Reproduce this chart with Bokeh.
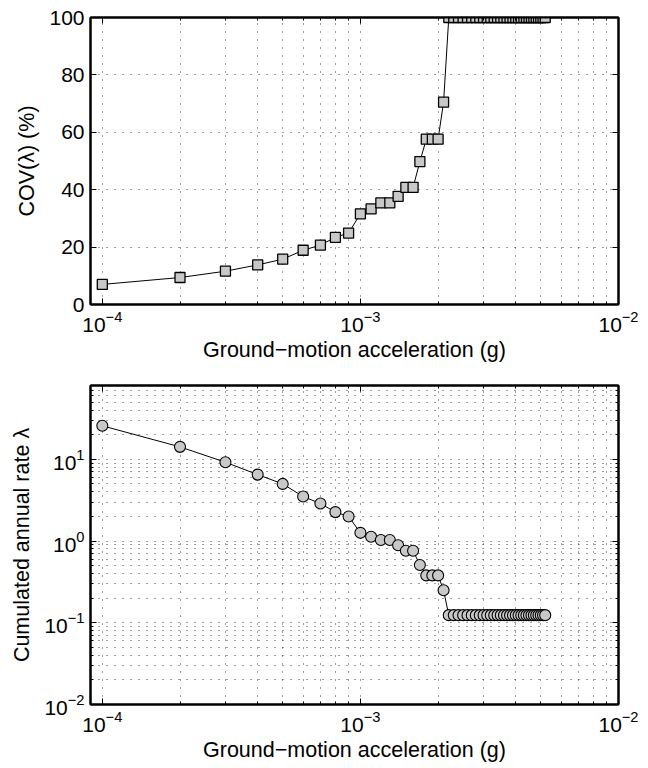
from bokeh.plotting import figure
from bokeh.layouts import column
from bokeh.models import LogAxis, LinearAxis, FixedTicker, Range1d, ColumnDataSource
from bokeh.embed import file_html
from bokeh.resources import INLINE

# ---------------- data ----------------
accel_g = [0.0001, 0.0002, 0.0003, 0.0004, 0.0005, 0.0006, 0.0007, 0.0008, 0.0009,
           0.0010, 0.0011, 0.0012, 0.0013, 0.0014, 0.0015, 0.0016, 0.0017, 0.0018,
           0.0019, 0.0020, 0.0021, 0.0022, 0.0023, 0.0024, 0.0025, 0.0026, 0.0027,
           0.0028, 0.0029, 0.0030, 0.0031, 0.0032, 0.0033, 0.0034, 0.0035, 0.0036,
           0.0037, 0.0038, 0.0039, 0.0040, 0.0041, 0.0042, 0.0043, 0.0044, 0.0045,
           0.0046, 0.0047, 0.0048, 0.0049, 0.0050, 0.0051, 0.0052]

cov_pct = [7.0, 9.4, 11.6, 13.8, 15.8, 18.9, 20.7, 23.4, 24.9,
           31.6, 33.3, 35.4, 35.4, 37.7, 40.8, 40.8, 49.8, 57.6,
           57.6, 57.6, 70.5, 100, 100, 100, 100, 100, 100,
           100, 100, 100, 100, 100, 100, 100, 100, 100,
           100, 100, 100, 100, 100, 100, 100, 100, 100,
           100, 100, 100, 100, 100, 100, 100]

annual_rate = [25.7, 14.2, 9.2, 6.5, 5.0, 3.5, 2.88, 2.26, 2.0,
               1.26, 1.13, 1.03, 1.03, 0.89, 0.76, 0.76, 0.51, 0.38,
               0.38, 0.38, 0.25, 0.124, 0.124, 0.124, 0.124, 0.124, 0.124,
               0.124, 0.124, 0.124, 0.124, 0.124, 0.124, 0.124, 0.124, 0.124,
               0.124, 0.124, 0.124, 0.124, 0.124, 0.124, 0.124, 0.124, 0.124,
               0.124, 0.124, 0.124, 0.124, 0.124, 0.124, 0.124]

x_major_ticks = [1e-4, 1e-3, 1e-2]
cov_ticks = [0, 20, 40, 60, 80, 100]
rate_major_ticks = [1e-2, 1e-1, 1e0, 1e1]

x_label = "Ground\u2212motion acceleration (g)"
cov_label = "COV(\u03bb) (%)"
rate_label = "Cumulated annual rate \u03bb"

# ---------------- styling ----------------
FONT = "Liberation Sans"
TICK_FS = "21px"
LABEL_FS = "21.5px"
MARKER_FILL = "#c8c8c8"

def minor_log(decades):
    return [m * 10.0 ** e for e in decades for m in range(2, 10)]

x_minor = minor_log([-5, -4, -3])
rate_minor = minor_log([-2, -1, 0, 1])


def style_axis(ax, labels=True):
    ax.major_tick_in = 6
    ax.major_tick_out = 0
    ax.minor_tick_in = 3
    ax.minor_tick_out = 0
    ax.axis_line_color = "black"
    ax.axis_line_width = 2
    ax.major_tick_line_color = "black"
    ax.minor_tick_line_color = "black"
    ax.major_label_text_font = FONT
    ax.major_label_text_color = "black"
    ax.axis_label_text_font = FONT
    ax.axis_label_text_font_style = "normal"
    ax.axis_label_text_color = "black"
    ax.axis_label_text_font_size = LABEL_FS
    if labels:
        ax.major_label_text_font_size = TICK_FS
        ax.major_label_standoff = 6
    else:
        ax.major_label_text_font_size = "0px"
        ax.major_label_text_alpha = 0
        ax.major_label_standoff = 0


def style_grid(g, minor=True):
    g.grid_line_color = "black"
    g.grid_line_alpha = 0.75
    g.grid_line_dash = "1 7"
    g.grid_line_width = 1
    if minor:
        g.minor_grid_line_color = "black"
        g.minor_grid_line_alpha = 0.75
        g.minor_grid_line_dash = "1 7"
        g.minor_grid_line_width = 1


src = ColumnDataSource(dict(x=accel_g, cov=cov_pct, rate=annual_rate))

x_ticker = FixedTicker(ticks=x_major_ticks, minor_ticks=x_minor)
x_start = 9.0e-5
x_end = 1e-2

# ---------------- top plot ----------------
p1 = figure(width=648, height=366, x_axis_type="log",
            x_range=Range1d(x_start, x_end), y_range=Range1d(0, 100),
            output_backend="svg", toolbar_location=None,
            min_border_left=90, min_border_right=30,
            min_border_top=17, min_border_bottom=62)
p1.xaxis.ticker = x_ticker
p1.yaxis.ticker = FixedTicker(ticks=cov_ticks)
p1.xaxis.axis_label = x_label
p1.yaxis.axis_label = cov_label
for ax in p1.xaxis + p1.yaxis:
    style_axis(ax)
p1.xaxis.axis_label_standoff = 3
p1.yaxis.axis_label_standoff = 7
top_ax = LogAxis(ticker=x_ticker)
style_axis(top_ax, labels=False)
p1.add_layout(top_ax, "above")
right_ax = LinearAxis(ticker=FixedTicker(ticks=cov_ticks))
style_axis(right_ax, labels=False)
p1.add_layout(right_ax, "right")
p1.xgrid.ticker = x_ticker
style_grid(p1.xgrid[0], minor=True)
style_grid(p1.ygrid[0], minor=False)
p1.outline_line_color = "black"
p1.outline_line_width = 2
p1.background_fill_color = "white"
p1.border_fill_color = "white"

p1.line("x", "cov", source=src, line_color="black", line_width=1)
p1.scatter("x", "cov", source=src, marker="square", size=10,
           fill_color=MARKER_FILL, line_color="black", line_width=1.3)

# ---------------- bottom plot ----------------
p2 = figure(width=648, height=402, x_axis_type="log", y_axis_type="log",
            x_range=Range1d(x_start, x_end), y_range=Range1d(1e-2, 80),
            output_backend="svg", toolbar_location=None,
            min_border_left=90, min_border_right=30,
            min_border_top=19, min_border_bottom=64)
rate_ticker = FixedTicker(ticks=rate_major_ticks, minor_ticks=rate_minor)
p2.xaxis.ticker = x_ticker
p2.yaxis.ticker = rate_ticker
p2.xaxis.axis_label = x_label
p2.yaxis.axis_label = rate_label
for ax in p2.xaxis + p2.yaxis:
    style_axis(ax)
p2.xaxis.axis_label_standoff = 3
p2.yaxis.axis_label_standoff = 7
top_ax2 = LogAxis(ticker=x_ticker)
style_axis(top_ax2, labels=False)
p2.add_layout(top_ax2, "above")
right_ax2 = LogAxis(ticker=rate_ticker)
style_axis(right_ax2, labels=False)
p2.add_layout(right_ax2, "right")
p2.xgrid.ticker = x_ticker
p2.ygrid.ticker = rate_ticker
style_grid(p2.xgrid[0], minor=True)
style_grid(p2.ygrid[0], minor=True)
p2.outline_line_color = "black"
p2.outline_line_width = 2
p2.background_fill_color = "white"
p2.border_fill_color = "white"

p2.line("x", "rate", source=src, line_color="black", line_width=1)
p2.scatter("x", "rate", source=src, marker="circle", size=11,
           fill_color=MARKER_FILL, line_color="black", line_width=1.1)

layout = column(p1, p2, spacing=0)
open("out.html", "w").write(file_html(layout, INLINE))
